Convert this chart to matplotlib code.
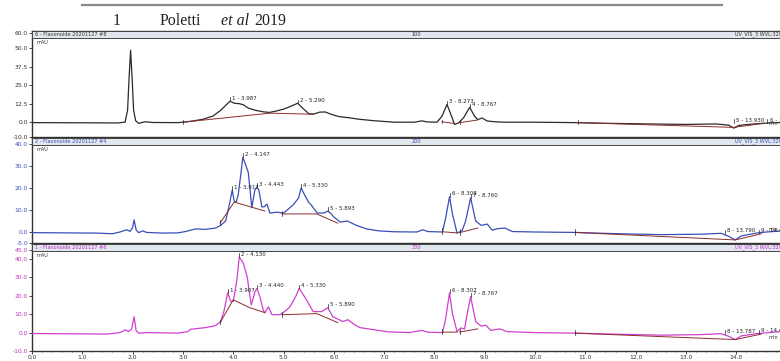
import numpy as np
import matplotlib
matplotlib.use("Agg")
import matplotlib.pyplot as plt
from matplotlib.patches import Rectangle

# ---- chromatogram data (retention time in min, absorbance in mAU) ----
t_8 = [0.0, 1.0, 1.7, 1.85, 1.90, 1.93, 1.96, 1.99, 2.02, 2.06, 2.12, 2.25, 2.4, 2.9,
       3.0, 3.2, 3.4, 3.6, 3.75, 3.87, 3.94, 4.02, 4.12, 4.2, 4.3, 4.45, 4.6, 4.72,
       4.85, 5.0, 5.15, 5.28, 5.38, 5.5, 5.6, 5.72, 5.83, 5.95, 6.1, 6.3, 6.5, 6.8,
       7.0, 7.2, 7.6, 7.75, 7.85, 8.05, 8.15, 8.25, 8.33, 8.40, 8.48, 8.58, 8.70,
       8.80, 8.86, 8.95, 9.05, 9.2, 9.4, 10.0, 10.8, 11.5, 12.3, 13.0, 13.6, 13.85,
       13.95, 14.05, 14.3, 14.6, 14.87]
mau_8 = [-0.3, -0.4, -0.5, 0.0, 8, 30, 48.6, 30, 8, 1.0, -0.8, 0.3, -0.2, -0.3,
         0.0, 0.8, 2.0, 4.2, 8.0, 12.0, 14.2, 12.8, 12.5, 11.8, 9.5, 8.0, 7.0, 6.6,
         7.5, 8.8, 10.8, 12.8, 9.5, 5.8, 5.5, 6.8, 6.9, 5.3, 3.8, 3.0, 2.0, 1.0,
         0.5, 0.0, 0.0, 0.9, 0.2, 0.0, 4.0, 12.0, 5.0, -1.5, -0.5, 3.0, 10.0,
         4.0, 1.8, 2.8, 0.8, 0.3, 0.0, 0.0, -0.3, -0.8, -1.2, -1.5, -1.2, -2.0,
         -4.0, -2.2, -1.3, -0.6, -0.2]

t_4 = [0.0, 1.3, 1.6, 1.75, 1.88, 1.95, 2.0, 2.03, 2.07, 2.12, 2.2, 2.28, 2.6, 2.9,
       3.05, 3.25, 3.45, 3.65, 3.75, 3.85, 3.92, 3.98, 4.02, 4.06, 4.1, 4.15, 4.19,
       4.24, 4.3, 4.34, 4.37, 4.43, 4.47, 4.51, 4.57, 4.62, 4.67, 4.73, 4.87, 5.0,
       5.1, 5.2, 5.3, 5.35, 5.42, 5.5, 5.55, 5.67, 5.8, 5.88, 5.95, 6.0, 6.13, 6.27,
       6.45, 6.65, 6.9, 7.2, 7.65, 7.77, 7.87, 8.16, 8.22, 8.3, 8.36, 8.45, 8.55,
       8.62, 8.72, 8.82, 8.93, 9.05, 9.15, 9.25, 9.4, 9.55, 10.0, 10.8, 11.5, 12.5,
       13.3, 13.7, 13.85, 13.98, 14.1, 14.4, 14.6, 14.87]
mau_4 = [-0.3, -0.5, -0.8, 0.0, 1.0, 0.3, 2, 5.5, 1.0, -0.3, 0.5, -0.2, -0.5, -0.4,
         0.2, 1.4, 1.2, 1.8, 3.0, 5, 12, 19, 14, 13.6, 17, 26, 34,
         31, 27, 18, 11, 19, 20.5, 19, 11.4, 11.5, 12.7, 8.6, 9.0, 8.6,
         10.5, 12.5, 15.5, 20, 16.8, 13.5, 12.3, 8.6, 8.6, 9.5, 8.2, 6.8, 4.5, 5.0,
         3.0, 1.4, 0.5, 0.1, 0.0, 1.0, 0.2, 0.0, 6, 16, 8, -0.5, 0.6,
         5, 15.5, 5, 3.0, 3.6, 0.8, 1.5, 1.8, 0.2, 0.0, -0.2, -0.7, -1.2,
         -1.0, -0.6, -2.0, -3.6, -1.8, -0.5, 0.0, 0.4]

t_6 = [0.0, 1.5, 1.75, 1.86, 1.92, 1.98, 2.03, 2.07, 2.12, 2.3, 2.9, 3.1, 3.15, 3.45,
       3.65, 3.75, 3.82, 3.89, 3.95, 4.0, 4.07, 4.12, 4.2, 4.28, 4.33, 4.36, 4.43,
       4.47, 4.53, 4.6, 4.63, 4.7, 4.77, 4.93, 5.05, 5.13, 5.25, 5.31, 5.43, 5.59,
       5.76, 5.88, 5.98, 6.18, 6.28, 6.4, 6.52, 6.78, 7.08, 7.5, 7.75, 7.87, 8.16,
       8.22, 8.3, 8.36, 8.45, 8.52, 8.6, 8.65, 8.72, 8.82, 8.93, 9.02, 9.12, 9.3,
       9.45, 10.0, 10.8, 11.5, 12.5, 13.3, 13.7, 13.85, 13.98, 14.1, 14.4, 14.87]
mau_6 = [-0.5, -0.8, 0.0, 1.5, 0.5, 2, 8.6, 1.0, -0.3, 0.0, -0.3, 0.5, 1.8, 2.7,
         3.8, 6, 12, 21.6, 17, 16.8, 28, 41, 37.8, 30, 20, 15, 22,
         24, 19.5, 12, 10.8, 14, 9.7, 9.7, 12, 14, 20, 24, 19, 11.4,
         11.4, 13.5, 8.6, 6.0, 7.0, 4.5, 2.7, 1.6, 0.4, 0.0, 1.2, 0.2, 0.0,
         7, 21.6, 10, 0.5, 2.5, 2.0, 10, 19.5, 6, 3.5, 4.0, 1.2, 2.0,
         0.5, 0.0, -0.3, -0.8, -1.4, -1.1, -0.6, -2.0, -3.8, -1.8, -0.6, 0.5]

# integration baselines
base_t_8 = [[3.0, 4.73, 5.59], [8.15, 8.38], [8.5, 8.86], [10.85, 13.95, 14.5]]
base_v_8 = [[0.0, 6.1, 5.4], [0.3, -0.8], [-0.3, 1.5], [-0.3, -3.5, -1.0]]
base_t_4 = [[3.74, 4.02, 4.63], [4.97, 5.66, 6.08], [8.16, 8.45], [8.5, 8.86], [10.8, 13.98, 14.5]]
base_v_4 = [[4.1, 13.6, 9.5], [8.2, 8.2, 4.0], [0.1, -0.4], [-0.3, 1.8], [-0.2, -3.6, -0.8]]
base_t_6 = [[3.74, 4.0, 4.33, 4.63], [4.97, 5.66, 6.08], [8.16, 8.45], [8.5, 8.86], [10.8, 13.98, 14.5]]
base_v_6 = [[5.4, 17.8, 13.5, 10.8], [9.7, 10.3, 5.4], [0.2, 0.3], [0.3, 2.0], [-0.3, -3.8, -0.8]]

# peak labels
pk_lab_8 = ["1 - 3.987", "2 - 5.290", "3 - 8.273", "4 - 8.767", "5 - 13.930", "6 - 14.6"]
pk_t_8 = [3.94, 5.28, 8.25, 8.70, 13.95, 14.62]
pk_v_8 = [14.2, 12.8, 12.0, 10.0, -0.5, -0.5]
pk_lab_4 = ["1 - 3.917", "2 - 4.147", "3 - 4.443", "4 - 5.330", "5 - 5.893", "6 - 8.308", "7 - 8.760", "8 - 13.790", "9 - 14.4"]
pk_t_4 = [3.98, 4.19, 4.47, 5.35, 5.88, 8.30, 8.72, 13.78, 14.45]
pk_v_4 = [19, 34, 20.5, 20, 9.5, 16, 15.5, -0.8, -0.6]
pk_lab_6 = ["1 - 3.907", "2 - 4.130", "3 - 4.440", "4 - 5.330", "5 - 5.890", "6 - 8.307", "7 - 8.767", "8 - 13.787", "9 - 14.4"]
pk_t_6 = [3.89, 4.12, 4.47, 5.31, 5.88, 8.30, 8.72, 13.78, 14.45]
pk_v_6 = [21.6, 41, 24, 24, 13.5, 21.6, 19.5, -0.8, -0.6]

# ---- figure ----
fig = plt.figure(figsize=(7.8, 3.61), dpi=100)
W, H = 780.0, 361.0

def fx(px):
    return px / W

def fy(py):
    return 1 - py / H

fig.add_artist(plt.Line2D([fx(82), fx(722)], [fy(5), fy(5)], color="#8a8a8a", lw=1.6))
serif = "Liberation Serif"
fig.text(fx(113), fy(25), "1", fontsize=11.5, family=serif, color="#222")
fig.text(fx(160), fy(25), "Poletti", fontsize=11.5, family=serif, color="#222")
fig.text(fx(221), fy(25), "et al", fontsize=11.5, family=serif, style="italic", color="#222")
fig.text(fx(254), fy(25), "2019", fontsize=11.5, family=serif, color="#222")

panels = [
    dict(top=31, bot=137, ylim=(-10, 61.6), ticks=[-10, 0, 12.5, 25, 37.5, 50, 60],
         t=t_8, v=mau_8, bt=base_t_8, bv=base_v_8, lab=pk_lab_8, pt=pk_t_8, pv=pk_v_8,
         col="#2a2a2a", tcol="#333333", head="6 - Flavonoide 20201127 #8", mid="100"),
    dict(top=138, bot=243, ylim=(-5, 42.7), ticks=[-5, 0, 10, 20, 30, 40],
         t=t_4, v=mau_4, bt=base_t_4, bv=base_v_4, lab=pk_lab_4, pt=pk_t_4, pv=pk_v_4,
         col="#3a4fb5", tcol="#3a4fb5", head="2 - Flavonoide 20201127 #4", mid="200"),
    dict(top=244, bot=351, ylim=(-9.7, 48.1), ticks=[-10, 0, 10, 20, 30, 40, 45],
         t=t_6, v=mau_6, bt=base_t_6, bv=base_v_6, lab=pk_lab_6, pt=pk_t_6, pv=pk_v_6,
         col="#d040d0", tcol="#c030c0", head="1 - Flavonoide 20201127 #6", mid="300"),
]

for i, p in enumerate(panels):
    ax = fig.add_axes([fx(32), fy(p["bot"]), 1 - fx(32), (p["bot"] - p["top"]) / H])
    ax.plot(p["t"], p["v"], color=p["col"], lw=0.9, zorder=3)
    for bt, bv in zip(p["bt"], p["bv"]):
        ax.plot(bt, bv, color="#8b2d2d", lw=0.7, zorder=4)
        ax.plot([bt[0], bt[0]], [bv[0] - 1, bv[0] + 1.5], color="#222", lw=0.5, zorder=4)
    span = p["ylim"][1] - p["ylim"][0]
    for lab, pt, pv in zip(p["lab"], p["pt"], p["pv"]):
        ax.plot([pt, pt], [pv, pv + span * 0.035], color="#222", lw=0.5, zorder=4)
        ax.annotate(lab, (pt, pv), xytext=(1.5, 2.0), textcoords="offset points",
                    fontsize=4, color="#222", va="center", ha="left", zorder=9)
    ax.set_xlim(0, 14.87)
    ax.set_ylim(*p["ylim"])
    ax.set_yticks(p["ticks"])
    ax.set_yticklabels(["%.1f" % v for v in p["ticks"]], fontsize=4.3, color=p["tcol"])
    ax.tick_params(axis="y", length=2, width=0.5, pad=1)
    ax.spines["right"].set_visible(False)
    for s in ["left", "top", "bottom"]:
        ax.spines[s].set_linewidth(1.0)
        ax.spines[s].set_color("#333")
    if i == 2:
        xt = list(range(0, 15))
        ax.set_xticks(xt)
        ax.set_xticklabels(["%.1f" % v for v in xt], fontsize=4.3, color="#333")
        ax.set_xticks(np.arange(0, 14.87, 0.2), minor=True)
        ax.tick_params(axis="x", length=2, width=0.5, pad=1)
        ax.tick_params(axis="x", which="minor", length=1, width=0.4)
    else:
        ax.set_xticks([])
    # header bar
    hh = 7.0 / (p["bot"] - p["top"])
    ax.add_patch(Rectangle((0, 1 - hh), 1.0, hh, transform=ax.transAxes,
                           facecolor="#e2e6ee", edgecolor="#444", lw=0.7, zorder=7, clip_on=False))
    ax.text(0.004, 1 - hh / 2, p["head"], transform=ax.transAxes, fontsize=3.6,
            color=p["tcol"], va="center", ha="left", zorder=8)
    ax.text(0.507, 1 - hh / 2, p["mid"], transform=ax.transAxes, fontsize=3.6,
            color=p["tcol"], va="center", ha="left", zorder=8)
    ax.text(0.94, 1 - hh / 2, "UV_VIS_3 WVL:320 nm", transform=ax.transAxes, fontsize=3.6,
            color=p["tcol"], va="center", ha="left", zorder=8)
    ax.text(0.006, 1 - hh - 0.015, "mAU", transform=ax.transAxes, fontsize=3.6,
            color="#333", va="top", ha="left", zorder=8)
    ax.text(0.985, 0.13, "min", transform=ax.transAxes, fontsize=3.6,
            color="#333", va="center", ha="left", zorder=8)

fig.savefig("out.png", dpi=100)
